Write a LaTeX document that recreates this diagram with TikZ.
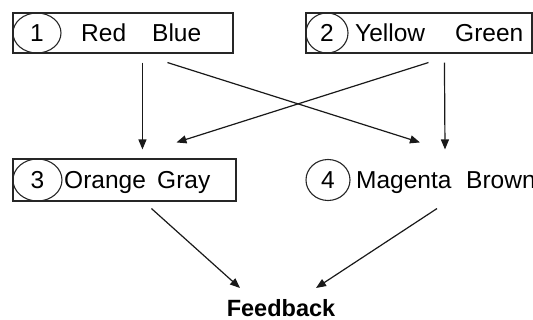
\documentclass[tikz,border=0pt]{standalone}
\usepackage{fontspec}
\setmainfont{Liberation Sans}
\usetikzlibrary{arrows.meta,shapes.geometric,calc}
\tikzset{
  box/.style={draw=black!85, line width=1.1pt, inner sep=0pt},
  num/.style={ellipse, draw=black!85, line width=1.1pt, inner sep=0pt},
  word/.style={anchor=base west, inner sep=0pt},
  link/.style={black!90, line width=1.2pt, -{Triangle[length=10pt,width=8pt]}},
}

\begin{document}
\begin{tikzpicture}[x=1pt, y=-1pt, font=\fontsize{24.5}{29}\selectfont]
  \useasboundingbox (0,0) rectangle (533,320);
  % top row
  \node[box, minimum width=220pt, minimum height=40pt] (b1) at (123,33) {};
  \node[num, minimum width=48pt, minimum height=40pt] (c1) at (37,33) {1};
  \node[word] (red) at (81,41.7) {Red};
  \node[word] (blue) at (152,41.7) {Blue};
  \node[box, minimum width=226pt, minimum height=40pt] (b2) at (419,33) {};
  \node[num, minimum width=42pt, minimum height=40pt] (c2) at (327,33) {2};
  \node[word] (yellow) at (355,41.7) {Yellow};
  \node[word] (green) at (455,41.7) {Green};
  % middle row
  \node[box, minimum width=223pt, minimum height=42pt] (b3) at (124.5,180) {};
  \node[num, minimum width=49pt, minimum height=42pt] (c3) at (37.5,180) {3};
  \node[word] (orange) at (64,188.5) {Orange};
  \node[word] (gray) at (157,188.5) {Gray};
  \node[num, minimum width=44pt, minimum height=41pt] (c4) at (328,180) {4};
  \node[word] (magenta) at (356,188.5) {Magenta};
  \node[word] (brown) at (466,188.5) {Brown};
  % bottom
  \node[anchor=base, inner sep=0pt, font=\fontsize{23.5}{28}\selectfont\bfseries] (fb) at (281,316.7) {Feedback};

  \draw[link] ($(b1.south west)+(130,9)$) -- ($(b3.north west)+(130,-9)$);
  \draw[link] ($(b1.south west)+(155,9)$) -- ($(c4.north)+(92,-16.5)$);
  \draw[link] ($(b2.south west)+(123,9)$) -- ($(b3.north west)+(164,-16)$);
  \draw[link] ($(b2.south west)+(139,9)$) -- ($(c4.north)+(117,-9.5)$);
  \draw[link] ($(b3.south west)+(139,7)$) -- ($(fb.base)+(-41,-28.7)$);
  \draw[link] ($(c4.south)+(109,7.5)$) -- ($(fb.base)+(35,-28.7)$);
\end{tikzpicture}
\end{document}
